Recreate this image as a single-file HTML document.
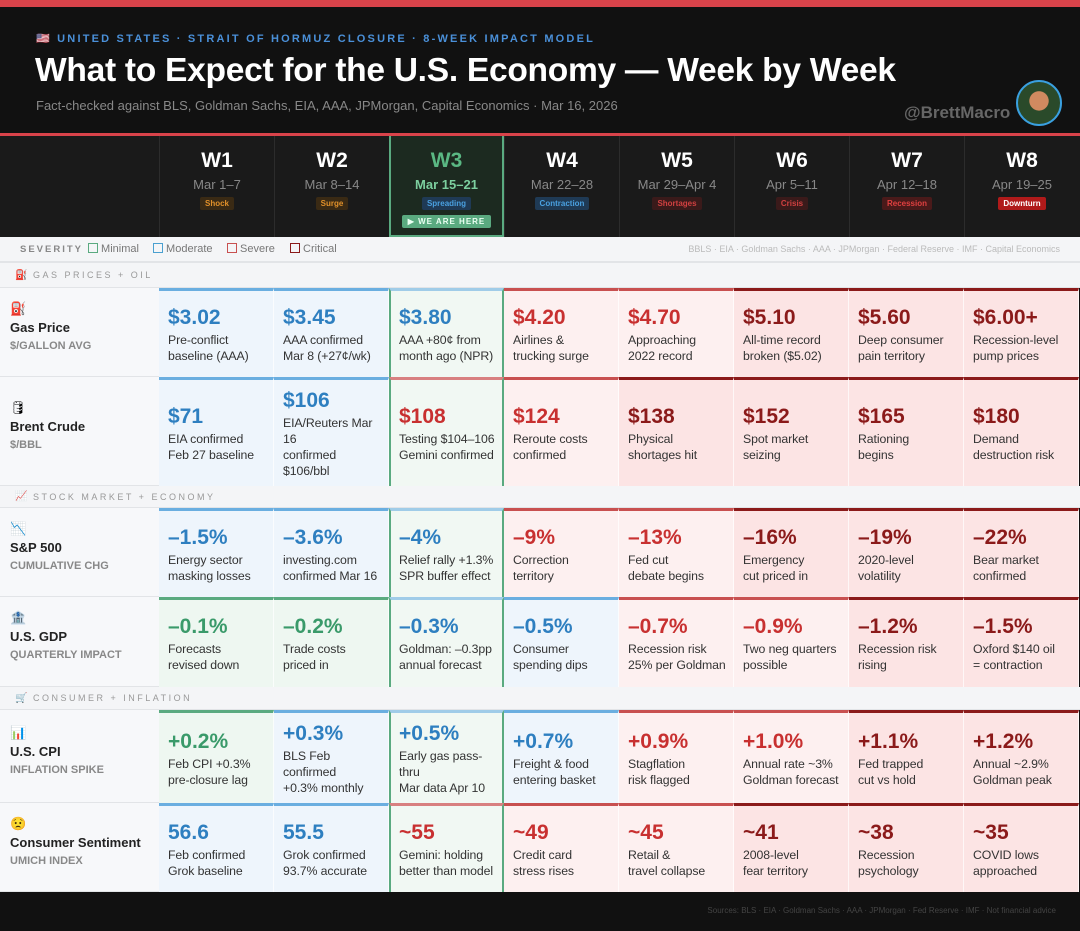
<!DOCTYPE html>
<html><head><meta charset="utf-8"><style>
*{box-sizing:border-box;margin:0;padding:0}
body{width:1080px;height:931px;overflow:hidden;background:#111;font-family:"Liberation Sans",sans-serif;position:relative}
#topbar{position:absolute;left:0;top:0;width:1080px;height:7px;background:#d9434a}
#header{position:absolute;left:0;top:7px;width:1080px;height:127px;background:#111}
#kicker{position:absolute;left:36px;top:25px;font-size:11px;font-weight:bold;letter-spacing:2.2px;color:#4a90d9}
#title{position:absolute;left:35px;top:45px;font-size:33.6px;font-weight:bold;color:#fff;letter-spacing:-0.3px}
#sub{position:absolute;left:36px;top:91px;font-size:13px;color:#888}
#handle{position:absolute;left:904px;top:96px;font-size:17px;font-weight:bold;color:#666}
#avatar{position:absolute;left:1016px;top:73px;width:46px;height:46px;border-radius:50%;border:2px solid #3aa0e0;background:radial-gradient(circle at 50% 45%,#d08a60 0 30%,#2a4a2a 32%)}
#redline{position:absolute;left:0;top:133px;width:1080px;height:3px;background:#d9434a}
#weeks{position:absolute;left:0;top:136px;width:1080px;height:101px;background:#1a1a1a}
.wk{position:absolute;top:0;height:101px;width:115px;border-left:1px solid #2c2c2c;text-align:center}
.wk .n{font-size:21px;font-weight:bold;color:#fff;margin-top:13px}
.wk .d{font-size:13px;color:#888;margin-top:4px}
.wk .b{display:inline-block;font-size:8px;font-weight:bold;padding:2px 5px;border-radius:2px;margin-top:5px}
#legend{position:absolute;left:0;top:237px;width:1080px;height:26px;background:#f4f5f7;border-bottom:2px solid #e2e4e7;font-size:11px;color:#777}
.sec{position:absolute;left:0;width:1080px;background:#f4f5f7;font-size:9px;letter-spacing:2.5px;color:#999;padding-left:33px;border-bottom:1px solid #e2e4e7}
.lab{position:absolute;left:0;width:159px;background:#f7f8fa;border-bottom:1px solid #e2e4e7;padding-left:10px}
.lab .ic{font-size:13px}
.lab .nm{font-size:13px;font-weight:bold;color:#222;margin-top:3px}
.lab .sb{font-size:11px;font-weight:bold;color:#888;margin-top:5px}
.cell{position:absolute;width:115px;border-top:3px solid;padding:0 2px 0 9px;display:flex;flex-direction:column;justify-content:center;border-right:1px solid rgba(255,255,255,.7)}
.cell .v{font-size:21px;font-weight:bold;line-height:25px}
.cell .t{font-size:12.3px;color:#333;line-height:16px;margin-top:2px;white-space:nowrap;letter-spacing:-0.1px}
#footer{position:absolute;left:0;top:892px;width:1080px;height:39px;background:#111}
</style></head><body>
<div id="topbar"></div>
<div id="header">
<div id="kicker">🇺🇸 UNITED STATES · STRAIT OF HORMUZ CLOSURE · 8-WEEK IMPACT MODEL</div>
<div id="title">What to Expect for the U.S. Economy — Week by Week</div>
<div id="sub">Fact-checked against BLS, Goldman Sachs, EIA, AAA, JPMorgan, Capital Economics · Mar 16, 2026</div>
<div id="handle">@BrettMacro</div>
<div id="avatar"></div>
</div>
<div id="redline"></div>
<div id="weeks"></div>
<div id="legend">
<span style="position:absolute;left:20px;top:7px;letter-spacing:2px;font-size:9.5px;font-weight:bold;color:#888">SEVERITY</span>
<span style="position:absolute;left:88px;top:6px"><span style="display:inline-block;width:10px;height:10px;border:1px solid #5aaa80;vertical-align:-1px"></span> Minimal</span>
<span style="position:absolute;left:153px;top:6px"><span style="display:inline-block;width:10px;height:10px;border:1px solid #4aa0d0;vertical-align:-1px"></span> Moderate</span>
<span style="position:absolute;left:227px;top:6px"><span style="display:inline-block;width:10px;height:10px;border:1px solid #c85050;vertical-align:-1px"></span> Severe</span>
<span style="position:absolute;left:290px;top:6px"><span style="display:inline-block;width:10px;height:10px;border:1px solid #8b1a1a;vertical-align:-1px"></span> Critical</span>
<span style="position:absolute;right:20px;top:7px;font-size:9px;color:#bbb">BBLS · EIA · Goldman Sachs · AAA · JPMorgan · Federal Reserve · IMF · Capital Economics</span>
</div>
<div id="grid"></div>
<div id="footer"><span style="position:absolute;right:24px;top:14px;font-size:8px;color:#444">Sources: BLS · EIA · Goldman Sachs · AAA · JPMorgan · Fed Reserve · IMF · Not financial advice</span></div>
<script>
const weeks=["W1","W2","W3","W4","W5","W6","W7","W8"];
const dates=["Mar 1–7","Mar 8–14","Mar 15–21","Mar 22–28","Mar 29–Apr 4","Apr 5–11","Apr 12–18","Apr 19–25"];
const phases=["Shock","Surge","Spreading","Contraction","Shortages","Crisis","Recession","Downturn"];
const phaseStyle=[["#3a2a14","#e0902a"],["#3a2a14","#e0902a"],["#1f3a55","#4aa0e0"],["#1f3a55","#4aa0e0"],["#3a1a1a","#d04040"],["#3a1a1a","#d04040"],["#4a1a1a","#e04040"],["#b01a1a","#fff"]];
const colX=[159,274,391,504,619,734,849,964];
const sev={m:["#5aaa80","#eef7f1","#3a9a6a"],o:["#6aaee0","#eef5fc","#2e7fc0"],s:["#c85050","#fdf0f0","#c83030"],c:["#8b1a1a","#fce4e4","#8b1a1a"]};
const sections=[["⛽","GAS PRICES + OIL",263,25],["📈","STOCK MARKET + ECONOMY",486,22],["🛒","CONSUMER + INFLATION",687,23]];
const rows=[
{y:288,h:89,ic:"⛽",nm:"Gas Price",sb:"$/GALLON AVG",v:["$3.02","$3.45","$3.80","$4.20","$4.70","$5.10","$5.60","$6.00+"],s:"ooossccc",t:["Pre-conflict<br>baseline (AAA)","AAA confirmed<br>Mar 8 (+27¢/wk)","AAA +80¢ from<br>month ago (NPR)","Airlines &amp;<br>trucking surge","Approaching<br>2022 record","All-time record<br>broken ($5.02)","Deep consumer<br>pain territory","Recession-level<br>pump prices"]},
{y:377,h:109,ic:"🛢",nm:"Brent Crude",sb:"$/BBL",v:["$71","$106","$108","$124","$138","$152","$165","$180"],s:"oosscccc",t:["EIA confirmed<br>Feb 27 baseline","EIA/Reuters Mar<br>16<br>confirmed<br>$106/bbl","Testing $104–106<br>Gemini confirmed","Reroute costs<br>confirmed","Physical<br>shortages hit","Spot market<br>seizing","Rationing<br>begins","Demand<br>destruction risk"]},
{y:508,h:89,ic:"📉",nm:"S&amp;P 500",sb:"CUMULATIVE CHG",v:["–1.5%","–3.6%","–4%","–9%","–13%","–16%","–19%","–22%"],s:"ooossccc",t:["Energy sector<br>masking losses","investing.com<br>confirmed Mar 16","Relief rally +1.3%<br>SPR buffer effect","Correction<br>territory","Fed cut<br>debate begins","Emergency<br>cut priced in","2020-level<br>volatility","Bear market<br>confirmed"]},
{y:597,h:90,ic:"🏦",nm:"U.S. GDP",sb:"QUARTERLY IMPACT",v:["–0.1%","–0.2%","–0.3%","–0.5%","–0.7%","–0.9%","–1.2%","–1.5%"],s:"mmoosscc",t:["Forecasts<br>revised down","Trade costs<br>priced in","Goldman: –0.3pp<br>annual forecast","Consumer<br>spending dips","Recession risk<br>25% per Goldman","Two neg quarters<br>possible","Recession risk<br>rising","Oxford $140 oil<br>= contraction"]},
{y:710,h:93,ic:"📊",nm:"U.S. CPI",sb:"INFLATION SPIKE",v:["+0.2%","+0.3%","+0.5%","+0.7%","+0.9%","+1.0%","+1.1%","+1.2%"],s:"mooosscc",t:["Feb CPI +0.3%<br>pre-closure lag","BLS Feb<br>confirmed<br>+0.3% monthly","Early gas pass-<br>thru<br>Mar data Apr 10","Freight &amp; food<br>entering basket","Stagflation<br>risk flagged","Annual rate ~3%<br>Goldman forecast","Fed trapped<br>cut vs hold","Annual ~2.9%<br>Goldman peak"]},
{y:803,h:89,ic:"😟",nm:"Consumer Sentiment",sb:"UMICH INDEX",v:["56.6","55.5","~55","~49","~45","~41","~38","~35"],s:"oosssccc",t:["Feb confirmed<br>Grok baseline","Grok confirmed<br>93.7% accurate","Gemini: holding<br>better than model","Credit card<br>stress rises","Retail &amp;<br>travel collapse","2008-level<br>fear territory","Recession<br>psychology","COVID lows<br>approached"]}
];
const W=document.getElementById('weeks');
weeks.forEach((w,i)=>{
 const d=document.createElement('div');d.className='wk';
 
 
 d.style.left=colX[i]+'px';
 if(i===2){d.style.background='#1c2a20';d.style.border='2px solid #5aaa80';d.style.borderTop='none';d.style.width='115px';d.style.left='389px';}
 const ps=phaseStyle[i];
 d.innerHTML='<div class="n"'+(i===2?' style="color:#5ab883"':'')+'>'+w+'</div><div class="d"'+(i===2?' style="color:#7ccf9f;font-weight:bold"':'')+'>'+dates[i]+'</div><div class="b" style="background:'+ps[0]+';color:'+ps[1]+'">'+phases[i]+'</div>'+(i===2?'<div><span style="display:inline-block;background:#5aaa80;color:#eafff2;font-size:8px;font-weight:bold;letter-spacing:1px;padding:2px 6px;border-radius:2px;margin-top:4px">▶ WE ARE HERE</span></div>':'');
 W.appendChild(d);
});
const G=document.getElementById('grid');
sections.forEach(s=>{
 const d=document.createElement('div');d.className='sec';
 
 
 d.style.top=s[2]+'px';d.style.height=s[3]+'px';d.style.lineHeight=s[3]+'px';
 d.innerHTML='<span style="position:absolute;left:15px;font-size:10px;letter-spacing:0">'+s[0]+'</span>'+s[1];
 G.appendChild(d);
});
rows.forEach((r,ri)=>{
 const l=document.createElement('div');l.className='lab';
 
 
 l.style.top=r.y+'px';l.style.height=r.h+'px';l.style.paddingTop=(r.h/2-32)+'px';
 l.innerHTML='<div class="ic">'+r.ic+'</div><div class="nm">'+r.nm+'</div><div class="sb">'+r.sb+'</div>';
 G.appendChild(l);
 r.v.forEach((v,i)=>{
  const c=document.createElement('div');c.className='cell';
  
  
  const S=sev[r.s[i]];
  c.style.left=colX[i]+'px';c.style.top=r.y+'px';c.style.height=r.h+'px';
  c.style.borderTopColor=S[0];c.style.background=S[1];
  if(i===2){c.style.background='#f1f8f3';c.style.borderLeft='2px solid #5aaa80';c.style.borderRight='2px solid #5aaa80';c.style.borderTopColor=r.s[i]==='s'?'#d88080':'#a0cce8';c.style.left='389px';c.style.paddingLeft='8px';c.style.paddingRight='0';}
  c.innerHTML='<div class="v" style="color:'+S[2]+'">'+v+'</div><div class="t">'+r.t[i]+'</div>';
  G.appendChild(c);
 });
});
</script>
</body></html>
